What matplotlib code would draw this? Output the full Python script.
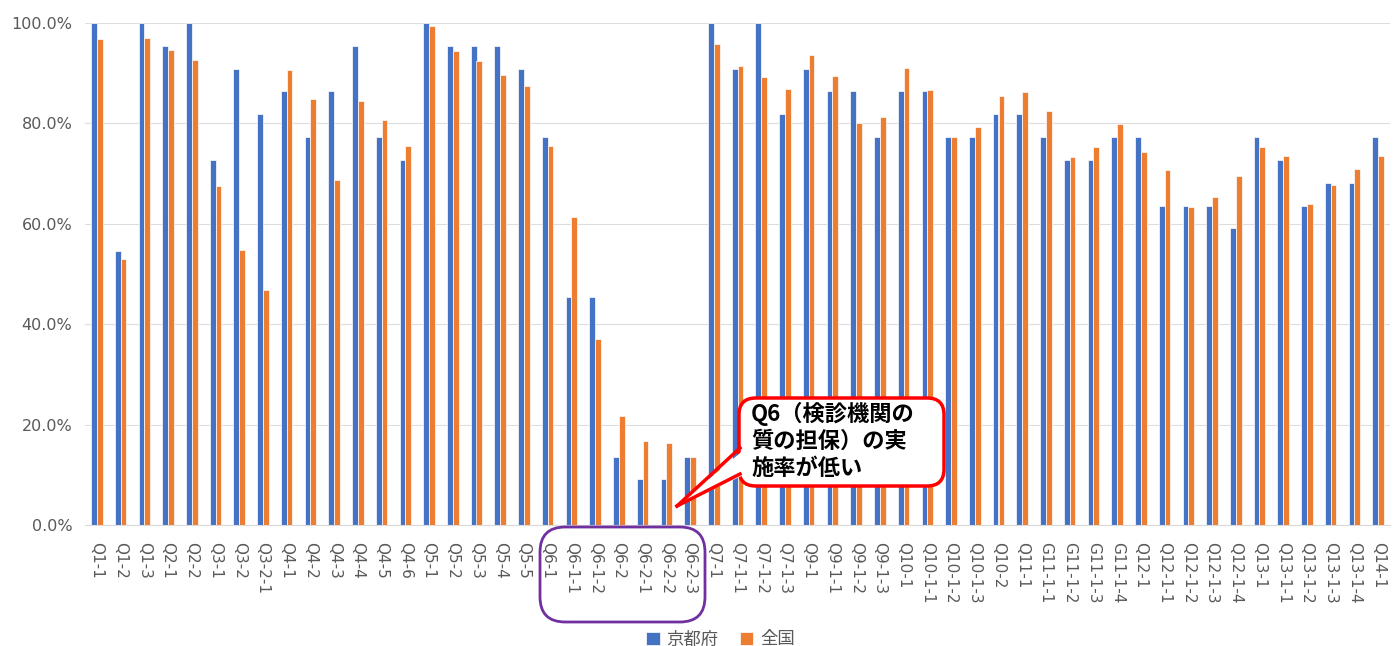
import matplotlib.pyplot as plt
from matplotlib.patches import FancyBboxPatch, Polygon
from matplotlib.lines import Line2D
from matplotlib.ticker import PercentFormatter

plt.rcParams['font.family'] = ['DejaVu Sans', 'Noto Sans CJK JP']

categories = [
    "Q1-1", "Q1-2", "Q1-3", "Q2-1", "Q2-2", "Q3-1", "Q3-2", "Q3-2-1",
    "Q4-1", "Q4-2", "Q4-3", "Q4-4", "Q4-5", "Q4-6",
    "Q5-1", "Q5-2", "Q5-3", "Q5-4", "Q5-5",
    "Q6-1", "Q6-1-1", "Q6-1-2", "Q6-2", "Q6-2-1", "Q6-2-2", "Q6-2-3",
    "Q7-1", "Q7-1-1", "Q7-1-2", "Q7-1-3",
    "Q9-1", "Q9-1-1", "Q9-1-2", "Q9-1-3",
    "Q10-1", "Q10-1-1", "Q10-1-2", "Q10-1-3", "Q10-2",
    "Q11-1", "G11-1-1", "G11-1-2", "G11-1-3", "G11-1-4",
    "Q12-1", "Q12-1-1", "Q12-1-2", "Q12-1-3", "Q12-1-4",
    "Q13-1", "Q13-1-1", "Q13-1-2", "Q13-1-3", "Q13-1-4", "Q14-1",
]
kyoto = [
    100.0, 54.5, 100.0, 95.5, 100.0, 72.7, 90.9, 81.8,
    86.4, 77.3, 86.4, 95.5, 77.3, 72.7,
    100.0, 95.5, 95.5, 95.5, 90.9,
    77.3, 45.5, 45.5, 13.6, 9.1, 9.1, 13.6,
    100.0, 90.9, 100.0, 81.8,
    90.9, 86.4, 86.4, 77.3,
    86.4, 86.4, 77.3, 77.3, 81.8,
    81.8, 77.3, 72.7, 72.7, 77.3,
    77.3, 63.6, 63.6, 63.6, 59.1,
    77.3, 72.7, 63.6, 68.2, 68.2, 77.3,
]
national = [
    96.9, 52.9, 97.1, 94.7, 92.6, 67.5, 54.8, 46.8,
    90.6, 84.8, 68.7, 84.5, 80.6, 75.5,
    99.4, 94.4, 92.5, 89.6, 87.4,
    75.5, 61.4, 37.0, 21.7, 16.7, 16.3, 13.5,
    95.8, 91.4, 89.2, 86.9,
    93.6, 89.4, 80.1, 81.2,
    91.0, 86.7, 77.2, 79.2, 85.5,
    86.3, 82.5, 73.4, 75.3, 79.8,
    74.4, 70.7, 63.3, 65.3, 69.6,
    75.3, 73.6, 63.9, 67.7, 70.9, 73.6,
]

W, H = 1399, 646
fig = plt.figure(figsize=(W / 100, H / 100), dpi=100)
ax = fig.add_axes([85 / W, 121 / H, 1305 / W, 502 / H])

x = list(range(len(categories)))
bw = 0.245
ax.bar([i - bw / 2 for i in x], kyoto, width=bw, color="#4472C4",
       edgecolor="white", linewidth=0.5, label="京都府", zorder=3)
ax.bar([i + bw / 2 for i in x], national, width=bw, color="#ED7D31",
       edgecolor="white", linewidth=0.5, label="全国", zorder=3)

ax.set_xlim(-0.5, len(categories) - 0.5)
ax.set_ylim(0, 100)
ax.set_yticks(range(0, 101, 20))
ax.yaxis.set_major_formatter(PercentFormatter(decimals=1))
ax.set_xticks(x)
ax.set_xticklabels(categories, rotation=270, ha="center", va="top")
ax.tick_params(axis="both", length=0, colors="#595959", labelsize=11)
ax.tick_params(axis="y", pad=9, labelsize=11.5)
ax.tick_params(axis="x", pad=12)
ax.grid(axis="y", color="#DDDDDD", linewidth=0.8, zorder=0)
for s in ["top", "right", "left"]:
    ax.spines[s].set_visible(False)
ax.spines["bottom"].set_color("#D9D9D9")
ax.spines["bottom"].set_zorder(4)

fig.legend(loc="lower center", bbox_to_anchor=(0.515, -0.028), ncol=2,
           frameon=False, handlelength=0.8, handleheight=0.8,
           handletextpad=0.4, columnspacing=1.2, fontsize=12.5,
           labelcolor="#595959")


def fp(px, py):
    return px / W, 1 - py / H


# purple box around Q6 labels
x0, y0 = fp(540, 622)
x1, y1 = fp(705, 527)
fig.patches.append(FancyBboxPatch((x0, y0), x1 - x0, y1 - y0,
                                  boxstyle="round,pad=0,rounding_size=0.018",
                                  transform=fig.transFigure, fill=False,
                                  ec="#7030A0", lw=2, mutation_aspect=W / H))

# callout
bx0, by0 = fp(739, 486)
bx1, by1 = fp(944, 398)
fig.patches.append(FancyBboxPatch((bx0, by0), bx1 - bx0, by1 - by0,
                                  boxstyle="round,pad=0,rounding_size=0.012",
                                  transform=fig.transFigure, fc="white",
                                  ec="#FF0000", lw=2.5, mutation_aspect=W / H,
                                  zorder=5))
tip = fp(677, 506)
b1 = fp(740, 448)
b2 = fp(740, 474)
fig.patches.append(Polygon([tip, fp(746, 448), fp(746, 474)], closed=True,
                           transform=fig.transFigure, fc="white", ec="none",
                           zorder=6))
fig.lines.append(Line2D([tip[0], b1[0]], [tip[1], b1[1]], color="#FF0000",
                        lw=2.5, transform=fig.transFigure, zorder=7))
fig.lines.append(Line2D([tip[0], b2[0]], [tip[1], b2[1]], color="#FF0000",
                        lw=2.5, transform=fig.transFigure, zorder=7))
tx, ty = fp(751, 441)
fig.text(tx, ty, "Q6（検診機関の\n質の担保）の実\n施率が低い",
         family=["Noto Sans CJK JP", "DejaVu Sans"], fontsize=16,
         fontweight="bold", ha="left", va="center", linespacing=1.2,
         color="black", zorder=8)

fig.savefig("out.png", dpi=100)
